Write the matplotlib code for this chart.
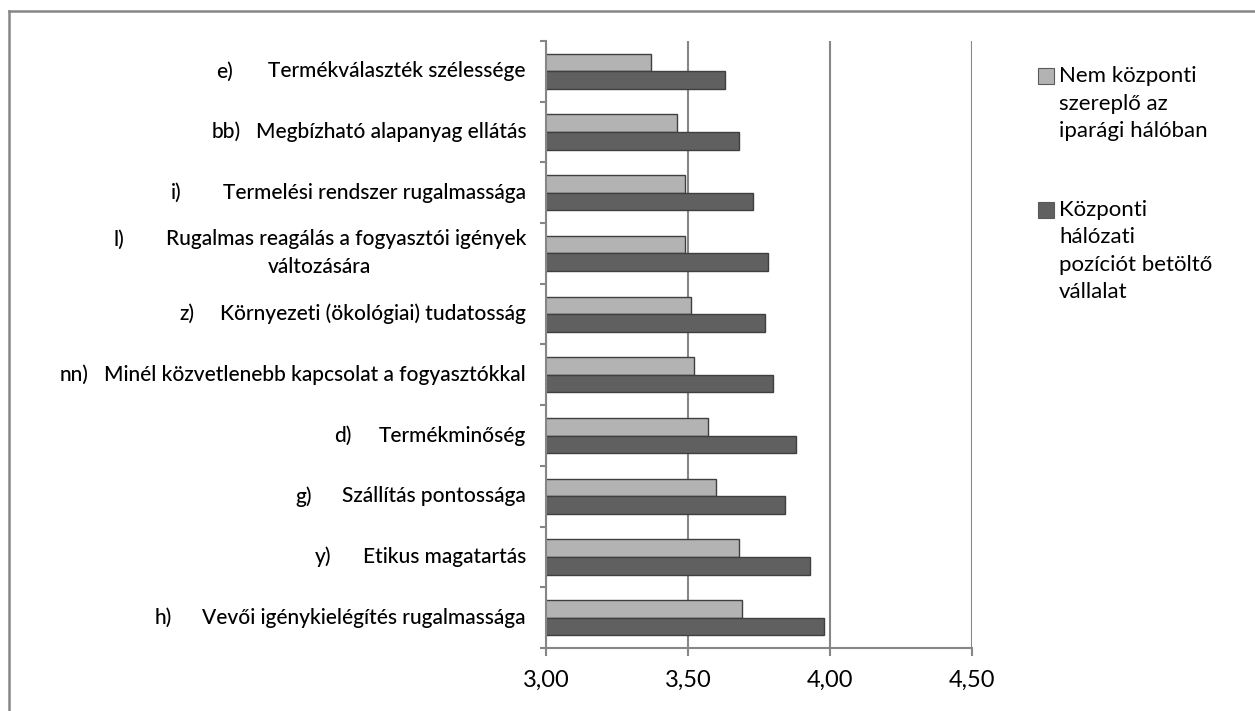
import matplotlib
matplotlib.use("Agg")
import matplotlib.pyplot as plt
import numpy as np
from matplotlib.transforms import blended_transform_factory, IdentityTransform
from matplotlib.patches import Rectangle
from matplotlib.lines import Line2D

# ---------------- data ----------------
prefixes = ["e)", "bb)", "i)", "l)", "z)", "nn)", "d)", "g)", "y)", "h)"]
categories = [
    "Termékválaszték szélessége",
    "Megbízható alapanyag ellátás",
    "Termelési rendszer rugalmassága",
    "Rugalmas reagálás a fogyasztói igények\nváltozására",
    "Környezeti (ökológiai) tudatosság",
    "Minél közvetlenebb kapcsolat a fogyasztókkal",
    "Termékminőség",
    "Szállítás pontossága",
    "Etikus magatartás",
    "Vevői igénykielégítés rugalmassága",
]
nem_kozponti = [3.37, 3.46, 3.49, 3.49, 3.51, 3.52, 3.57, 3.60, 3.68, 3.69]
kozponti = [3.63, 3.68, 3.73, 3.78, 3.77, 3.80, 3.88, 3.84, 3.93, 3.98]
series_labels = ["Nem központi\nszereplő az\niparági hálóban",
                 "Központi\nhálózati\npozíciót betöltő\nvállalat"]
xticks = [3.0, 3.5, 4.0, 4.5]
xtick_labels = ["3,00", "3,50", "4,00", "4,50"]

# ---------------- style ----------------
plt.rcParams['font.family'] = ['Lato', 'DejaVu Sans']
W, H = 1255, 711
GRAY = "#868686"
LIGHT = "#b3b3b3"
DARK = "#606060"
EDGE = "#3f3f3f"
LABEL_WEIGHT = "medium"
# gap (px) between prefix start and label text start
prefix_gap = [52, 44, 52, 52, 41, 45, 45, 47, 48, 48]

fig = plt.figure(figsize=(W / 100, H / 100), dpi=100)
fig.patch.set_facecolor("white")
ax = fig.add_axes([546 / W, 1 - 648 / H, (972 - 546) / W, (648 - 41) / H])

y = np.arange(len(categories))
bh = 0.29
ax.barh(y - bh / 2, nem_kozponti, height=bh, left=0, color=LIGHT,
        edgecolor=EDGE, linewidth=1.0, zorder=3)
ax.barh(y + bh / 2, kozponti, height=bh, left=0, color=DARK,
        edgecolor=EDGE, linewidth=1.0, zorder=3)

ax.set_xlim(3.0, 4.5)
ax.set_ylim(len(categories) - 0.5, -0.5)

for s in ["top", "right"]:
    ax.spines[s].set_visible(False)
for s in ["left", "bottom"]:
    ax.spines[s].set_color(GRAY)
    ax.spines[s].set_linewidth(1.5)
    ax.spines[s].set_zorder(4)

ax.set_xticks(xticks)
ax.set_xticklabels(xtick_labels, fontsize=17, color="#000000")
ax.tick_params(axis="x", direction="out", length=6, width=1.5, color=GRAY, pad=10)
ax.set_yticks(np.arange(-0.5, len(categories), 1.0))
ax.set_yticklabels([])
ax.tick_params(axis="y", direction="out", length=4.5, width=1.5, color=GRAY)
ax.grid(axis="x", color=GRAY, linewidth=1.5, zorder=0)
ax.set_axisbelow(True)

# ---------------- category labels ----------------
trans = blended_transform_factory(IdentityTransform(), ax.transData)
label_fs = 15
text_right = 526
main_texts = []
for i, lab in enumerate(categories):
    lines = lab.split("\n")
    if len(lines) == 1:
        t = ax.text(text_right, i, lines[0], transform=trans, ha="right",
                    va="center", fontsize=label_fs, color="black",
                    fontweight=LABEL_WEIGHT)
        main_texts.append((t, i, None))
    else:
        off = 14 / 60.7
        t = ax.text(text_right, i - off, lines[0], transform=trans, ha="right",
                    va="center", fontsize=label_fs, color="black",
                    fontweight=LABEL_WEIGHT)
        main_texts.append((t, i - off, lines[1:]))

fig.canvas.draw()
renderer = fig.canvas.get_renderer()
for (t, yy, extra), pre, gap in zip(main_texts, prefixes, prefix_gap):
    bb = t.get_window_extent(renderer)
    x0 = bb.x0 - gap
    ax.text(x0, yy, pre, transform=trans, ha="left", va="center",
            fontsize=label_fs, color="black", fontweight=LABEL_WEIGHT)
    if extra:
        xc = (x0 + bb.x1) / 2
        for k, ln in enumerate(extra):
            ax.text(xc, yy + (k + 1) * 28 / 60.7, ln, transform=trans,
                    ha="center", va="center", fontsize=label_fs, color="black",
                    fontweight=LABEL_WEIGHT)

# ---------------- legend ----------------
leg_fs = 16
colors = [LIGHT, DARK]
first_line_y = [76, 210]
line_step = 27.5
for lab, c, y0 in zip(series_labels, colors, first_line_y):
    fig.add_artist(Rectangle((1038 / W, 1 - (y0 + 8) / H), 16 / W, 16 / H,
                             transform=fig.transFigure, facecolor=c,
                             edgecolor="#5a5a5a", linewidth=0.8))
    for k, ln in enumerate(lab.split("\n")):
        fig.text(1059 / W, 1 - (y0 + k * line_step) / H, ln, ha="left",
                 va="center", fontsize=leg_fs, color="black")

# ---------------- outer frame ----------------
fig.add_artist(Line2D([9 / W, 9 / W], [0, 1 - 11 / H], transform=fig.transFigure,
                      color=GRAY, linewidth=1.8))
fig.add_artist(Line2D([9 / W, 1.0], [1 - 11 / H, 1 - 11 / H],
                      transform=fig.transFigure, color=GRAY, linewidth=1.8))

fig.savefig("out.png", dpi=100)
